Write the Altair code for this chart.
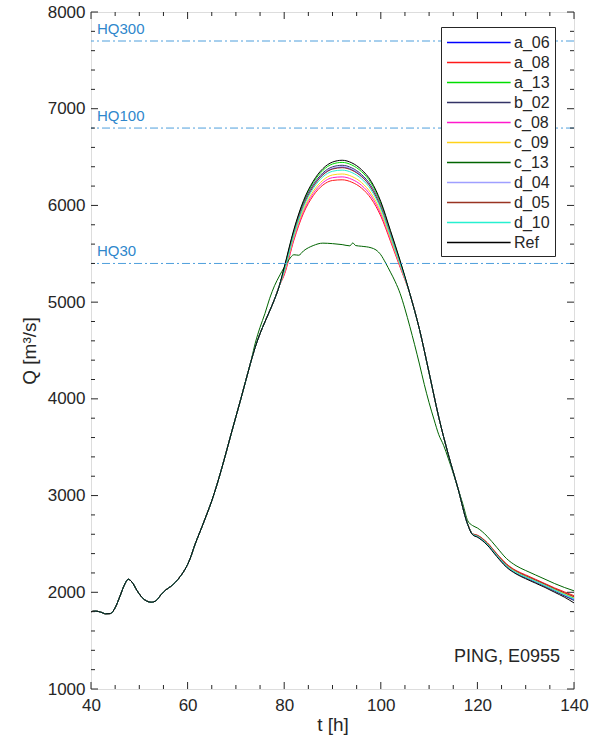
import altair as alt
import pandas as pd

# ---------------- data ----------------
SERIES = ["a_06", "a_08", "a_13", "b_02", "c_08", "c_09", "c_13", "d_04", "d_05", "d_10", "Ref"]
COLORS = ["#0000ff", "#ff1a1a", "#00dd00", "#333366", "#ff1acc", "#ffd21a", "#006400",
          "#9f9fff", "#993322", "#26f0d0", "#000000"]

# shared early hydrograph (all series identical)
T_HEAD = [40, 41, 42, 43, 44, 45, 46, 47, 47.7, 48.5, 49.5, 50.5, 51.5, 52.5, 53.5, 54.5, 55.5,
          56.5, 57.5, 58.5, 59.5, 60.5, 61.5, 62, 63, 64, 65, 66, 67, 68, 69, 70, 71, 72, 73]
Q_HEAD = [1800, 1805, 1795, 1778, 1780, 1840, 1960, 2085, 2135, 2105, 2020, 1950, 1910, 1897, 1915,
          1975, 2025, 2060, 2105, 2165, 2240, 2345, 2490, 2555, 2680, 2810, 2945, 3100, 3270, 3450,
          3635, 3815, 3995, 4180, 4365]

T_RISE = [74, 75, 76, 77, 78, 79]
Q_RISE = [4535, 4675, 4795, 4910, 5030, 5170]

T_BODY = [80, 82, 84, 86, 88, 90, 92, 94, 96, 98, 100, 102, 104]
Q_BODY = {
    "a_06": [5345, 5730, 6020, 6205, 6320, 6380, 6395, 6370, 6302, 6186, 5986, 5700, 5405],
    "a_08": [5280, 5640, 5920, 6100, 6210, 6258, 6265, 6240, 6180, 6070, 5890, 5630, 5360],
    "a_13": [5352, 5740, 6038, 6235, 6362, 6428, 6445, 6418, 6350, 6232, 6025, 5730, 5424],
    "b_02": [5340, 5722, 6017, 6212, 6336, 6399, 6415, 6388, 6320, 6203, 6000, 5711, 5412],
    "c_08": [5290, 5655, 5940, 6122, 6235, 6287, 6295, 6270, 6208, 6097, 5912, 5647, 5370],
    "c_09": [5305, 5675, 5960, 6145, 6260, 6315, 6325, 6300, 6237, 6124, 5935, 5663, 5381],
    "d_04": [5335, 5712, 6005, 6200, 6323, 6385, 6400, 6375, 6307, 6190, 5990, 5703, 5407],
    "d_05": [5330, 5708, 6000, 6193, 6315, 6376, 6390, 6364, 6298, 6182, 5983, 5698, 5403],
    "d_10": [5320, 5695, 5985, 6175, 6295, 6353, 6365, 6340, 6275, 6160, 5965, 5685, 5395],
    "Ref":  [5360, 5750, 6050, 6250, 6380, 6448, 6467, 6440, 6370, 6250, 6040, 5740, 5430],
}

T_FALL = [106, 108, 110, 112, 114, 116]
Q_FALL = [5090, 4720, 4270, 3810, 3420, 3070]

# c_13 deviates strongly (flattened peak)
T_C13 = [74, 75, 76, 77, 78, 79, 80, 81, 82, 83, 84, 86, 88, 90, 92, 93.6, 94.2, 94.8, 96, 98, 99,
         100, 101, 102, 103, 104, 105, 106, 107, 108, 109, 110, 111, 112, 113, 114, 115, 116, 117]
Q_C13 = [4575, 4740, 4880, 5040, 5170, 5270, 5360, 5440, 5490, 5485, 5530, 5585, 5610, 5605, 5595,
         5582, 5612, 5585, 5578, 5562, 5540, 5490, 5405, 5310, 5210, 5090, 4930, 4750, 4560, 4360,
         4150, 3960, 3790, 3630, 3520, 3380, 3230, 3070, 2910]

T_TAIL = [118, 119, 120, 122, 124, 126, 128, 130, 132, 134, 136, 138, 140]
Q_TAIL = {
    "a_06": [2700, 2598, 2575, 2498, 2380, 2270, 2200, 2152, 2108, 2064, 2015, 1967, 1925],
    "a_08": [2705, 2605, 2590, 2515, 2400, 2295, 2225, 2180, 2135, 2090, 2045, 2005, 1965],
    "a_13": [2702, 2600, 2580, 2502, 2386, 2276, 2206, 2160, 2116, 2072, 2025, 1980, 1940],
    "b_02": [2700, 2597, 2574, 2496, 2378, 2268, 2198, 2150, 2105, 2061, 2012, 1963, 1915],
    "c_08": [2704, 2603, 2586, 2510, 2394, 2288, 2218, 2170, 2126, 2082, 2036, 1993, 1950],
    "c_09": [2703, 2602, 2584, 2508, 2392, 2284, 2214, 2166, 2122, 2078, 2032, 1988, 1945],
    "c_13": [2740, 2690, 2665, 2580, 2465, 2350, 2275, 2225, 2180, 2135, 2090, 2050, 2015],
    "d_04": [2701, 2599, 2577, 2500, 2382, 2272, 2202, 2156, 2112, 2068, 2020, 1974, 1930],
    "d_05": [2704, 2604, 2588, 2512, 2396, 2290, 2220, 2172, 2128, 2084, 2038, 1996, 1955],
    "d_10": [2702, 2600, 2579, 2501, 2384, 2274, 2204, 2158, 2114, 2070, 2022, 1977, 1935],
    "Ref":  [2700, 2595, 2570, 2490, 2370, 2260, 2190, 2140, 2095, 2050, 2000, 1950, 1890],
}

HQ_VALUES = [7700, 6800, 5400]
HQ_LABELS = ["HQ300", "HQ100", "HQ30"]

X_MAJOR = [40, 60, 80, 100, 120, 140]
X_MINOR = [45, 50, 55, 65, 70, 75, 85, 90, 95, 105, 110, 115, 125, 130, 135]
Y_MAJOR = [1000, 2000, 3000, 4000, 5000, 6000, 7000, 8000]
Y_MINOR = [1200, 1400, 1600, 1800, 2200, 2400, 2600, 2800, 3200, 3400, 3600, 3800,
           4200, 4400, 4600, 4800, 5200, 5400, 5600, 5800, 6200, 6400, 6600, 6800,
           7200, 7400, 7600, 7800]

STATION = "PING, E0955"

# ---------------- build table ----------------
rows = []
for s in SERIES:
    if s == "c_13":
        ts = T_HEAD + T_C13 + T_TAIL
        qs = Q_HEAD + Q_C13 + Q_TAIL[s]
    else:
        ts = T_HEAD + T_RISE + T_BODY + T_FALL + T_TAIL
        qs = Q_HEAD + Q_RISE + Q_BODY[s] + Q_FALL + Q_TAIL[s]
    for i, (t, q) in enumerate(zip(ts, qs)):
        rows.append({"series": s, "t": t, "Q": q, "i": i})
df = pd.DataFrame(rows)
df_other = df[df.series != "Ref"]
df_ref = df[df.series == "Ref"]

W, H = 483, 677
FONT = "Liberation Sans"
TXT = "#262626"
HQ_COLOR = "#4f9fdc"

xs = alt.Scale(domain=[40, 140], nice=False, zero=False)
ys = alt.Scale(domain=[1000, 8000], nice=False, zero=False)

X_AXIS = alt.Axis(
    values=X_MAJOR, title="t [h]", grid=False, domain=False, ticks=False, format="d",
    labelFlush=False, labelOverlap=False,
    labelFontSize=17, labelFont=FONT, labelColor=TXT, labelPadding=8,
    titleFontSize=19, titleFont=FONT, titleColor=TXT, titleFontWeight="normal", titlePadding=2)
Y_AXIS = alt.Axis(
    values=Y_MAJOR, title="Q [m³/s]", grid=False, domain=False, ticks=False, format="d",
    labelFlush=False, labelOverlap=False,
    labelFontSize=17, labelFont=FONT, labelColor=TXT, labelPadding=6,
    titleFontSize=19, titleFont=FONT, titleColor=TXT, titleFontWeight="normal", titlePadding=8)

color = alt.Color(
    "series:N",
    scale=alt.Scale(domain=SERIES, range=COLORS),
    sort=SERIES,
    legend=alt.Legend(
        title=None, orient="none", legendX=350, legendY=15,
        symbolType="M-1,0H5.7", symbolSize=361, symbolStrokeWidth=1.3,
        labelFontSize=16, labelFont=FONT, labelColor=TXT, labelOffset=47,
        rowPadding=1, padding=5, strokeColor="#262626", fillColor="white",
        cornerRadius=0,
    ),
)

x_enc = alt.X("t:Q", scale=xs, axis=X_AXIS)
y_enc = alt.Y("Q:Q", scale=ys, axis=Y_AXIS)

lines = alt.Chart(df_other).mark_line(strokeWidth=1, interpolate="monotone", clip=True).encode(
    x=x_enc, y=y_enc, color=color, order="i:Q")
ref = alt.Chart(df_ref).mark_line(strokeWidth=1, interpolate="monotone", clip=True).encode(
    x=x_enc, y=y_enc, color=color, order="i:Q")

hq_df = pd.DataFrame({"hq": HQ_VALUES, "label": HQ_LABELS})
hq_lines = alt.Chart(hq_df).mark_rule(strokeWidth=1, strokeDash=[8, 3, 2, 3]).encode(
    y=alt.Y("hq:Q", scale=ys, axis=Y_AXIS), stroke=alt.value(HQ_COLOR))
hq_text = alt.Chart(hq_df).mark_text(align="left", baseline="middle", dy=-12, fontSize=15,
                                     font=FONT).encode(
    x=alt.value(6), y=alt.Y("hq:Q", scale=ys, axis=Y_AXIS), text="label:N",
    fill=alt.value("#2f87cc"))

ymaj = pd.DataFrame({"v": Y_MAJOR})
ymin = pd.DataFrame({"v": Y_MINOR})
xmaj = pd.DataFrame({"v": X_MAJOR})
xmin = pd.DataFrame({"v": X_MINOR})

def yticks(d, L):
    yy = alt.Y("v:Q", scale=ys, axis=Y_AXIS)
    a = alt.Chart(d).mark_rule(stroke=TXT, strokeWidth=1).encode(y=yy, x=alt.value(0), x2=alt.value(L))
    b = alt.Chart(d).mark_rule(stroke=TXT, strokeWidth=1).encode(y=yy, x=alt.value(W - L), x2=alt.value(W))
    return [a, b]

def xticks(d, L):
    xx = alt.X("v:Q", scale=xs, axis=X_AXIS)
    a = alt.Chart(d).mark_rule(stroke=TXT, strokeWidth=1).encode(x=xx, y=alt.value(H - L), y2=alt.value(H))
    b = alt.Chart(d).mark_rule(stroke=TXT, strokeWidth=1).encode(x=xx, y=alt.value(0), y2=alt.value(L))
    return [a, b]

station = alt.Chart(pd.DataFrame({"s": [STATION]})).mark_text(
    align="right", baseline="middle", fontSize=18, font=FONT, fill=TXT).encode(
    x=alt.value(469), y=alt.value(645), text="s:N")

layers = [lines, ref, hq_lines, hq_text] + yticks(ymaj, 7) + yticks(ymin, 4) \
    + xticks(xmaj, 7) + xticks(xmin, 4) + [station]

chart = alt.layer(*layers).properties(
    width=W, height=H,
    autosize=alt.AutoSizeParams(type="none"),
    padding={"left": 91, "top": 12, "right": 26, "bottom": 50},
).configure_view(stroke=TXT, strokeWidth=1).configure(background="white")

chart.save("out.html", embed_options={"renderer": "svg", "actions": False})
